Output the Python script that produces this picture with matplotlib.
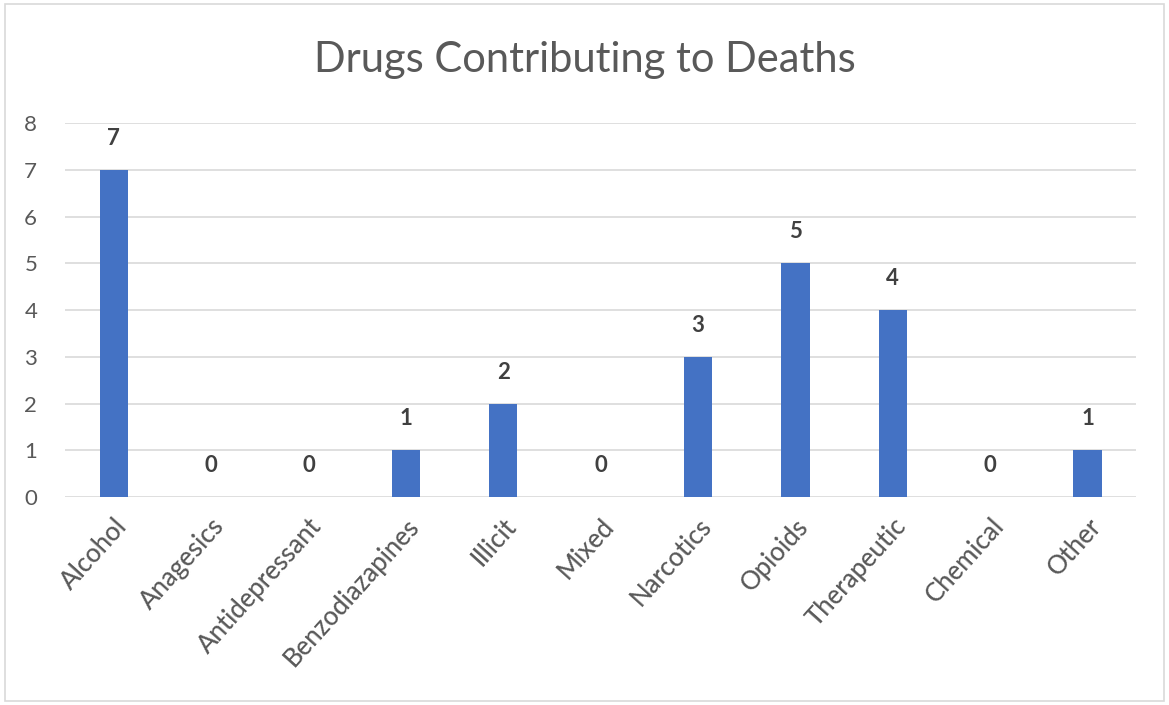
import matplotlib
matplotlib.use('Agg')
import matplotlib.pyplot as plt
import matplotlib.transforms as mtrans
from matplotlib.patches import Rectangle

# data
categories = ['Alcohol', 'Anagesics', 'Antidepressant', 'Benzodiazapines', 'Illicit',
              'Mixed', 'Narcotics', 'Opioids', 'Therapeutic', 'Chemical', 'Other']
deaths = [7, 0, 0, 1, 2, 0, 3, 5, 4, 0, 1]
yticks = [0, 1, 2, 3, 4, 5, 6, 7, 8]

plt.rcParams['font.family'] = ['Lato', 'DejaVu Sans']

fig = plt.figure(figsize=(11.69, 7.05), dpi=100)
ax = fig.add_axes([0.0556, 0.295, 0.9164, 0.5305])

x = range(len(categories))
bars = ax.bar(x, deaths, width=0.29, color='#4472C4', zorder=3)

for b, v in zip(bars, deaths):
    ax.annotate(str(v), (b.get_x() + b.get_width() / 2, v), xytext=(0, 15),
                textcoords='offset points', ha='center', va='bottom',
                fontsize=16, fontweight='bold', color='#404040')

ax.set_xlim(-0.5, len(categories) - 0.5)
ax.set_ylim(0, 8)
ax.set_yticks(yticks)
ax.set_xticks(list(x))
ax.set_xticklabels(categories, rotation=48, ha='right', rotation_mode='anchor',
                   fontsize=18.5, color='#595959', fontweight='medium')
# nudge labels a little left like excel does
shift = mtrans.ScaledTranslation(-8 / 100, 0, fig.dpi_scale_trans)
for lbl in ax.get_xticklabels():
    lbl.set_transform(lbl.get_transform() + shift)
ax.tick_params(axis='y', labelsize=16, labelcolor='#595959', length=0, pad=20)
ax.tick_params(axis='x', length=0, pad=12)
ax.yaxis.grid(True, color='#D9D9D9', linewidth=1.2, zorder=0)
for s in ax.spines.values():
    s.set_visible(False)

fig.text(0.5, 0.915, 'Drugs Contributing to Deaths', ha='center', va='center',
         fontsize=30, color='#595959')

fig.patches.append(Rectangle((0.004, 0.005), 0.992, 0.99, transform=fig.transFigure,
                             fill=False, edgecolor='#D9D9D9', linewidth=1.2))

fig.savefig('out.png', dpi=100)
